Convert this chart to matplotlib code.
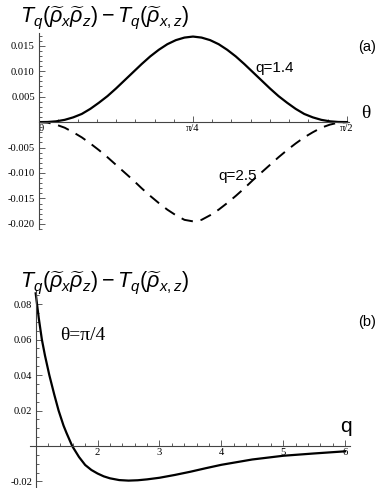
import numpy as np
import matplotlib
matplotlib.use("Agg")
import matplotlib.pyplot as plt
from matplotlib.ticker import MultipleLocator

# ---- data ----
theta_deg = [0, 2.5, 5, 7.5, 10, 12.5, 15, 17.5, 20, 22.5, 25, 27.5, 30, 32.5, 35, 37.5, 40, 42.5,
             45, 47.5, 50, 52.5, 55, 57.5, 60, 62.5, 65, 67.5, 70, 72.5, 75, 77.5, 80, 82.5,
             85, 87.5, 90]
diff_q14 = [0, 0.00002, 0.00015, 0.00044, 0.00093, 0.0016, 0.0026, 0.0038, 0.0051, 0.0066,
            0.0082, 0.0098, 0.0114, 0.0129, 0.0142, 0.0153, 0.0161, 0.0166, 0.0168,
            0.0166, 0.0161, 0.0153, 0.0142, 0.0129, 0.0114, 0.0098, 0.0082, 0.0066, 0.0051,
            0.0038, 0.0026, 0.0016, 0.00093, 0.00044, 0.00015, 0.00002, 0]
diff_q25 = [0, -0.0001, -0.0005, -0.0011, -0.0020, -0.0030, -0.0042, -0.0055, -0.0069, -0.0084,
            -0.0099, -0.0114, -0.0130, -0.0145, -0.0159, -0.0172, -0.0183, -0.0192, -0.0195,
            -0.0192, -0.0183, -0.0172, -0.0159, -0.0145, -0.0130, -0.0114, -0.0099, -0.0084,
            -0.0069, -0.0055, -0.0042, -0.0030, -0.0020, -0.0011, -0.0005, -0.0001, 0]

q_vals = [1.0, 1.05, 1.1, 1.15, 1.22, 1.3, 1.37, 1.45, 1.5, 1.59, 1.7, 1.8, 1.9, 2.0, 2.1,
          2.2, 2.35, 2.5, 2.65, 2.8, 3.0, 3.25, 3.5, 3.75, 4.0, 4.5, 5.0, 5.5, 6.0]
diff_pi4 = [0.086, 0.072, 0.060, 0.051, 0.040, 0.029, 0.020, 0.0115, 0.0072, 0.0, -0.0062,
            -0.0107, -0.0135, -0.0155, -0.0171, -0.0182, -0.0192, -0.0195, -0.0193, -0.0188,
            -0.0179, -0.0163, -0.0145, -0.0125, -0.0106, -0.0076, -0.0055, -0.0042, -0.0030]

a_yticks = [-0.020, -0.015, -0.010, -0.005, 0.005, 0.010, 0.015]
a_yticklabels = ["-0.020", "-0.015", "-0.010", "-0.005", "0.005", "0.010", "0.015"]
a_xticks = [0, np.pi / 4, np.pi / 2]
a_xticklabels = ["0", "π/4", "π/2"]
b_yticks = [-0.02, 0.02, 0.04, 0.06, 0.08]
b_yticklabels = ["-0.02", "0.02", "0.04", "0.06", "0.08"]
b_xticks = [2, 3, 4, 5, 6]
b_xticklabels = ["2", "3", "4", "5", "6"]

title = r"$T_q(\widetilde{\rho}_x\widetilde{\rho}_z)-T_q(\widetilde{\rho}_{x,z})$"

plt.rcParams["mathtext.fontset"] = "custom"
plt.rcParams["mathtext.it"] = "Liberation Sans:italic"
plt.rcParams["mathtext.rm"] = "Liberation Sans"

W, H = 382, 488
fig = plt.figure(figsize=(W / 100, H / 100), dpi=100)

def box(l, r, t, b):
    return [l / W, 1 - b / H, (r - l) / W, (b - t) / H]

axcol = "#444444"
serif = "Liberation Serif"

def style(ax, ypad):
    for s in ["top", "right"]:
        ax.spines[s].set_visible(False)
    for s in ["left", "bottom"]:
        ax.spines[s].set_color(axcol)
        ax.spines[s].set_linewidth(0.8)
    ax.tick_params(which="both", direction="in", colors=axcol, width=0.6,
                   labelsize=7.6, labelcolor="black")
    ax.tick_params(axis="x", pad=1.5)
    ax.tick_params(axis="y", pad=ypad)
    ax.tick_params(which="major", length=4)
    ax.tick_params(which="minor", length=2.2)
    for lab in ax.get_xticklabels() + ax.get_yticklabels():
        lab.set_family(serif)
    ax.patch.set_visible(False)

# ---- panel (a) ----
ax1 = fig.add_axes(box(39, 349, 33, 229))
th = np.deg2rad(theta_deg)
ax1.plot(th, diff_q14, color="black", lw=1.6)
ax1.plot(th, diff_q25, color="black", lw=1.4, dashes=(6, 4))
ax1.set_xlim(0, np.pi / 2 * (349 - 39) / (347 - 39))
ax1.set_ylim(-0.021, 0.0175)
ax1.spines["left"].set_position(("data", 0))
ax1.spines["bottom"].set_position(("data", 0))
ax1.set_xticks(a_xticks)
ax1.set_xticklabels(a_xticklabels)
ax1.xaxis.set_minor_locator(MultipleLocator(np.pi / 32))
ax1.set_yticks(a_yticks)
ax1.set_yticklabels(a_yticklabels)
ax1.yaxis.set_minor_locator(MultipleLocator(0.001))
style(ax1, 3.0)
for lab in ax1.get_xticklabels():
    lab.set_horizontalalignment("left" if lab.get_text() == "0" else "center")

# ---- panel (b) ----
ax2 = fig.add_axes(box(29.5, 350, 290, 487))
ax2.plot(q_vals, diff_pi4, color="black", lw=1.6)
ax2.set_xlim(0.9, 6.08)
ax2.set_ylim(-0.0231, 0.0879)
ax2.spines["left"].set_position(("data", 1))
ax2.spines["bottom"].set_position(("data", 0))
ax2.set_xticks(b_xticks)
ax2.set_xticklabels(b_xticklabels)
ax2.xaxis.set_minor_locator(MultipleLocator(0.2))
ax2.set_yticks(b_yticks)
ax2.set_yticklabels(b_yticklabels)
ax2.yaxis.set_minor_locator(MultipleLocator(0.005))
style(ax2, 2.5)

# ---- texts (figure pixel coordinates) ----
def ftext(x, y, s, **kw):
    fig.text(x / W, 1 - y / H, s, **kw)

ftext(20, 22, title, fontsize=15.5, ha="left", va="baseline")
ftext(20, 287, title, fontsize=15.5, ha="left", va="baseline")
ftext(367, 47, "(a)", fontsize=10.5, family="Liberation Sans", ha="center", va="center")
ftext(367, 322, "(b)", fontsize=10.5, family="Liberation Sans", ha="center", va="center")
ftext(255, 68, "q=1.4", fontsize=11, family="Liberation Sans", ha="left", va="center")
ftext(257, 176, "q=2.5", fontsize=11, family="Liberation Sans", ha="right", va="center")
ftext(366, 113, "θ", fontsize=14, family=serif, ha="center", va="center")
ftext(60, 335, "θ=π/4", fontsize=14, family=serif, ha="left", va="center")
ftext(346, 427, "q", fontsize=15, family="Liberation Sans", ha="center", va="center")

fig.savefig("out.png", dpi=100)
